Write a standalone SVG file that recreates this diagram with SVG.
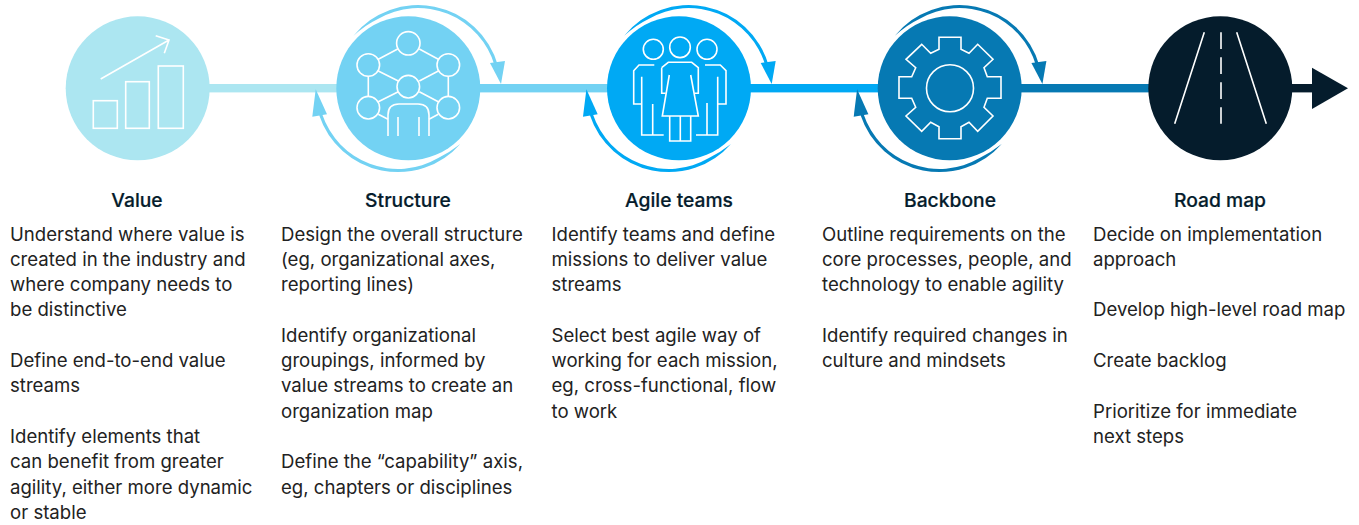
<svg xmlns="http://www.w3.org/2000/svg" width="1359" height="525" viewBox="0 0 1359 525">
<style>
text{font-family:"Inter","Liberation Sans",sans-serif;font-size:18.6px;fill:#222}
.t{font-size:19.3px;font-weight:500;text-anchor:middle;fill:#051c2c;stroke:#051c2c;stroke-width:.2}
.i{fill:none;stroke:#fff;stroke-width:1.6}
.c1{fill:#ace6f1}.c2{fill:#73d2f3}.c3{fill:#00a9f4}.c4{fill:#0679b3}.c5{fill:#051c2c}
</style>
<defs>
<g id="loop">
<path d="M353.5,35.8A83,83 0 0 1 497.8,65.1L494.8,65.9A79.9,79.9 0 0 0 377.9,18.9Q365,25 353.5,35.8Z"/>
<path d="M490,63L505,61L501,84Z"/>
<path d="M460.3,143.9A83,83 0 0 1 319.2,115.2L322.2,114.3A79.9,79.9 0 0 0 438.2,158.1Q450,152 460.3,143.9Z"/>
<path d="M315.7,89.3L327,114.3L312.3,116.7Z"/>
</g>
</defs>
<g id="connectors">
<rect class="c1" x="205" y="84" width="135" height="8.4"/>
<rect class="c2" x="476" y="84" width="135" height="8.4"/>
<rect class="c3" x="747" y="84" width="135" height="8.4"/>
<rect class="c4" x="1018" y="84" width="135" height="8.4"/>
<rect class="c5" x="1288" y="84" width="26" height="8.4"/>
<path class="c5" d="M1312,67.7L1348,88.3L1312,109Z"/>
<use href="#loop" class="c2"/>
<use href="#loop" class="c3" x="270.7"/>
<use href="#loop" class="c4" x="541.4"/>
</g>
<g id="value">
<circle class="c1" cx="137.7" cy="88.3" r="72"/>
<g class="i">
<rect x="93.3" y="100.7" width="24" height="27.6"/>
<rect x="125.7" y="81.7" width="23.6" height="46.6"/>
<rect x="158.3" y="66" width="25" height="62.3"/>
<path d="M100.7,79L169,40M155.7,35.7L169,40L164.3,53.3"/>
</g>
<text class="t" x="137" y="206.5">Value</text>
<text x="10" y="240.5">Understand where value is</text>
<text x="10" y="265.8">created in the industry and</text>
<text x="10" y="291">where company needs to</text>
<text x="10" y="316.3">be distinctive</text>
<text x="10" y="367">Define end-to-end value</text>
<text x="10" y="392.2">streams</text>
<text x="10" y="443">Identify elements that</text>
<text x="10" y="468.2">can benefit from greater</text>
<text x="10" y="493.5">agility, either more dynamic</text>
<text x="10" y="518.8">or stable</text>
</g>
<g id="structure">
<circle class="c2" cx="408.3" cy="88.3" r="72"/>
<g class="i">
<circle cx="408.3" cy="43.3" r="11.7"/>
<circle cx="368.3" cy="65" r="11.3"/>
<circle cx="448.3" cy="65" r="11.3"/>
<circle cx="408.3" cy="86.7" r="11.3"/>
<circle cx="368.3" cy="107.7" r="11.3"/>
<circle cx="448.3" cy="107.7" r="11.3"/>
<path d="M397.7,49L378.3,59.3M419.3,49L438.3,59.3M368.3,76.7V96M448.3,76.7V96M378.3,71L398.3,81M419.3,81L438.3,71M378.3,101.7L398.3,91.7M419.3,91.7L438.3,101.7M378.3,114.3L388,119.3M429,119.3L438.3,114.3"/>
<path d="M388,136V115Q388,104 399,104H418Q429,104 429,115V136M398,117V136M419,117V136"/>
</g>
<text class="t" x="408" y="206.5">Structure</text>
<text x="281" y="240.5">Design the overall structure</text>
<text x="281" y="265.8">(eg, organizational axes,</text>
<text x="281" y="291">reporting lines)</text>
<text x="281" y="341.7">Identify organizational</text>
<text x="281" y="367">groupings, informed by</text>
<text x="281" y="392.2">value streams to create an</text>
<text x="281" y="417.5">organization map</text>
<text x="281" y="468.2">Define the “capability” axis,</text>
<text x="281" y="493.5">eg, chapters or disciplines</text>
</g>
<g id="agile-teams">
<circle class="c3" cx="679" cy="88.3" r="72"/>
<g class="i">
<circle cx="653.3" cy="49.3" r="10"/>
<circle cx="680" cy="47.3" r="10.3"/>
<circle cx="707" cy="49.3" r="10"/>
<path d="M654.3,65H639L633.7,70.7V104H641.7M641.7,76.7V135H663.7M652.7,104V135"/>
<path d="M705,65H720.3L726,70.7V104H717.7M717.7,76.7V135H696M707,103V135"/>
<path d="M661.7,67.7L668.3,62.3H691.7L698.3,67.7V93.3H694.3M661.7,67.7V93.3H665.7"/>
<path d="M669.3,75L662.3,116H698.3L690.7,75"/>
<path d="M669.7,116V141H690.7V116M680.3,116V141"/>
</g>
<text class="t" x="679" y="206.5">Agile teams</text>
<text x="551.5" y="240.5">Identify teams and define</text>
<text x="551.5" y="265.8">missions to deliver value</text>
<text x="551.5" y="291">streams</text>
<text x="551.5" y="341.7">Select best agile way of</text>
<text x="551.5" y="367">working for each mission,</text>
<text x="551.5" y="392.2">eg, cross-functional, flow</text>
<text x="551.5" y="417.5">to work</text>
</g>
<g id="backbone">
<circle class="c4" cx="949.7" cy="88.3" r="72"/>
<g class="i">
<circle cx="950" cy="88.3" r="23.5"/>
<path d="M939,37.3H961V49.3L969,53.3L977.7,44.3L993,59.3L984,67.7L987.3,76.7H1001V98.3H987.3L984,107.3L993,116L977.7,131.3L969,122.3L961,126.7V138.7H939V126.7L930.7,122.3L921.7,131.3L906,116L915.7,107.3L911.7,98.3H899V76.7H911.7L915.7,67.7L906,59.3L921.7,44.3L930.7,53.3L939,49.3Z"/>
</g>
<text class="t" x="950" y="206.5">Backbone</text>
<text x="822" y="240.5">Outline requirements on the</text>
<text x="822" y="265.8">core processes, people, and</text>
<text x="822" y="291">technology to enable agility</text>
<text x="822" y="341.7">Identify required changes in</text>
<text x="822" y="367">culture and mindsets</text>
</g>
<g id="road-map">
<circle class="c5" cx="1220.3" cy="88.3" r="72"/>
<g class="i">
<path d="M1204.3,32.3L1174.7,123.7M1236.7,32.3L1266.3,123.7"/>
<path d="M1221,32.3V123.7" stroke-dasharray="16.7 8.3"/>
</g>
<text class="t" x="1220" y="206.5">Road map</text>
<text x="1093" y="240.5">Decide on implementation</text>
<text x="1093" y="265.8">approach</text>
<text x="1093" y="316.3">Develop high-level road map</text>
<text x="1093" y="367">Create backlog</text>
<text x="1093" y="417.5">Prioritize for immediate</text>
<text x="1093" y="443">next steps</text>
</g>
</svg>
